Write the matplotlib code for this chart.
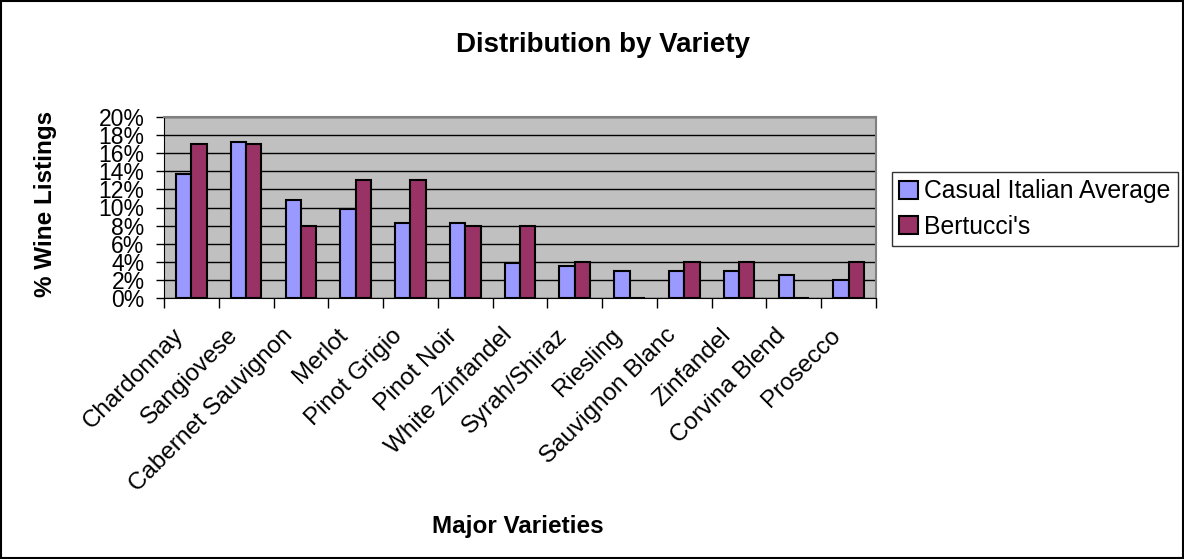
import numpy as np
import matplotlib
matplotlib.use("Agg")
import matplotlib.pyplot as plt
import matplotlib.transforms as mtransforms
from matplotlib.patches import Rectangle

plt.rcParams['font.family'] = ['Liberation Sans', 'DejaVu Sans']

# дані
varieties = ["Chardonnay", "Sangiovese", "Cabernet Sauvignon", "Merlot", "Pinot Grigio",
             "Pinot Noir", "White Zinfandel", "Syrah/Shiraz", "Riesling", "Sauvignon Blanc",
             "Zinfandel", "Corvina Blend", "Prosecco"]
casual_avg = [13.7, 17.2, 10.8, 9.8, 8.3, 8.3, 3.9, 3.5, 3.0, 3.0, 3.0, 2.5, 2.0]
bertuccis = [17.0, 17.0, 8.0, 13.0, 13.0, 8.0, 8.0, 4.0, 0.0, 4.0, 4.0, 0.0, 4.0]
y_ticks = [0, 2, 4, 6, 8, 10, 12, 14, 16, 18, 20]

fig = plt.figure(figsize=(11.84, 5.59), dpi=100)
ax = fig.add_axes([164 / 1184, 1 - 298 / 559, 712 / 1184, 181 / 559])

x = np.arange(len(varieties))
w = 0.28
ax.bar(x - w / 2, casual_avg, w, color="#9999FF", edgecolor="black", linewidth=1.5,
       label="Casual Italian Average", zorder=3)
ax.bar(x + w / 2, bertuccis, w, color="#993366", edgecolor="black", linewidth=1.5,
       label="Bertucci's", zorder=3)

ax.set_facecolor("#C0C0C0")
ax.set_xlim(-0.5, len(varieties) - 0.5)
ax.set_ylim(0, 20)
ax.set_yticks(y_ticks)
ax.set_yticklabels([f"{t}%" for t in y_ticks], fontsize=16.5)
ax.yaxis.grid(True, color="black", linewidth=1, zorder=1)
ax.tick_params(axis="y", direction="out", length=6, width=1, pad=8)

# мітки категорій між групами
ax.set_xticks(x)
ax.set_xticklabels(varieties, rotation=45, ha="right", rotation_mode="anchor", fontsize=17.5)
ax.tick_params(axis="x", length=0, pad=19)
shift = mtransforms.ScaledTranslation(-19 / 100, 0, fig.dpi_scale_trans)
for lbl in ax.get_xticklabels():
    lbl.set_transform(lbl.get_transform() + shift)
ax.set_xticks(np.arange(-0.5, len(varieties)), minor=True)
ax.tick_params(axis="x", which="minor", direction="out", length=7, width=1)

for side in ["top", "right"]:
    ax.spines[side].set_color("#808080")
    ax.spines[side].set_linewidth(1.5)
ax.spines["left"].set_color("black")
ax.spines["bottom"].set_color("black")

fig.text(603 / 1184, 1 - 45 / 559, "Distribution by Variety", ha="center", va="center",
         fontsize=20, fontweight="bold")
fig.text(46 / 1184, 1 - 204 / 559, "% Wine Listings", ha="center", va="center",
         rotation=90, fontsize=17.5, fontweight="bold")
fig.text(518 / 1184, 1 - 527 / 559, "Major Varieties", ha="center", va="center",
         fontsize=17.5, fontweight="bold")

leg = fig.legend(loc="upper left", bbox_to_anchor=(892 / 1184, 1 - 172 / 559),
                 fontsize=17.8, frameon=True, fancybox=False, borderpad=0.3,
                 handlelength=0.75, handleheight=0.75, handletextpad=0.25, labelspacing=0.45,
                 borderaxespad=0)
leg.get_frame().set_edgecolor("black")
leg.get_frame().set_linewidth(1)

fig.patches.append(Rectangle((0.001, 0.001), 0.998, 0.997, transform=fig.transFigure,
                             fill=False, edgecolor="black", linewidth=1.5))

fig.savefig("out.png", dpi=100)
